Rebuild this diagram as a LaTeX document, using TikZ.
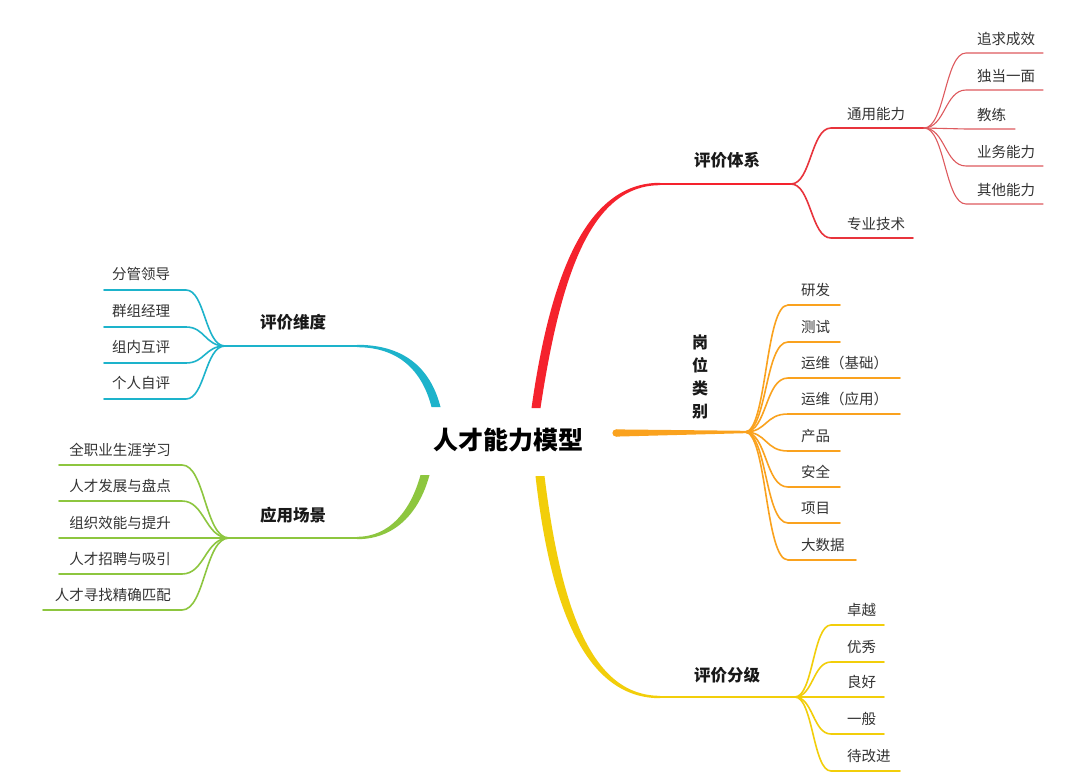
\documentclass[tikz,border=0pt]{standalone}
\usepackage{fontspec}
\setmainfont{Noto Sans CJK SC}
\usetikzlibrary{calc}
\definecolor{cR}{HTML}{F5222D}
\definecolor{cRsub}{HTML}{E8343C}
\definecolor{cRleaf}{HTML}{DE5A5E}
\definecolor{cO}{HTML}{FAA21E}
\definecolor{cY}{HTML}{F2CE0A}
\definecolor{cT}{HTML}{1DB3CB}
\definecolor{cG}{HTML}{8DC63F}
\definecolor{txt}{HTML}{333333}
\begin{document}
\begin{tikzpicture}[x=1pt,y=-1pt,
  leaf/.style={font=\fontsize{14.5}{17}\selectfont, text=txt, inner sep=0pt},
  mainlbl/.style={font=\bfseries\fontsize{16.5}{20}\selectfont, text=black!90, inner sep=0pt},
  thin/.style={line width=1.1pt, line cap=round},
  mid/.style={line width=1.6pt, line cap=round},
  trunk/.style={line width=2.4pt, line cap=round}]
\useasboundingbox (0,0) rectangle (1080,784);
\fill[white] (0,0) rectangle (1080,784);

% root
\node[font=\bfseries\fontsize{25}{30}\selectfont, inner sep=0pt] (root) at (508,440) {人才能力模型};

% ---------- red: 评价体系 ----------
\coordinate (rS) at (536,408);
\coordinate (rC) at (660,184);
\coordinate (rB) at (791,184);
\fill[cR] ($(rS)+(-4.5,0)$) .. controls (551,270) and (588,182.8) .. ($(rC)+(0,-1.2)$)
  -- ($(rC)+(0,1.2)$) .. controls (592,185.2) and (561,272) .. ($(rS)+(4.5,0)$) -- cycle;
\draw[cR, trunk] (rC) -- (rB);
\node[mainlbl] (pjtx) at (727,160) {评价体系};

\coordinate (tyS) at (831,128); \coordinate (tyE) at (924,128);
\draw[cRsub, mid] (rB) .. controls (811,184) and (811,128) .. (tyS) -- (tyE);
\node[leaf] (ty) at (876,114) {通用能力};
\coordinate (zyS) at (831,238); \coordinate (zyE) at (913,238);
\draw[cRsub, mid] (rB) .. controls (811,184) and (811,238) .. (zyS) -- (zyE);
\node[leaf] (zy) at (876,224) {专业技术};

\foreach \n/\y/\xe/\t in {a/53/1043/追求成效, b/90/1043/独当一面, c/129/1015/教练, d/166/1043/业务能力, e/204/1043/其他能力}{
  \coordinate (r\n-s) at (966,\y); \coordinate (r\n-e) at (\xe,\y);
  \draw[cRleaf, thin] (tyE) .. controls (945,128) and (945,\y) .. (r\n-s) -- (r\n-e);
  \node[leaf, anchor=west] (r\n) at (977,\y-14) {\t};
}

% ---------- orange: 岗位类别 ----------
\coordinate (oS) at (616,433);
\coordinate (oB) at (745,432);
\fill[cO] ($(oS)+(0,-3.6)$) -- ($(oB)+(0,-1.2)$) -- ($(oB)+(0,1.2)$) -- ($(oS)+(0,3.6)$) -- cycle;
\fill[cO] (oS) circle (3.6);
\node[mainlbl, align=center, font=\bfseries\fontsize{16}{23}\selectfont] (gw) at (700,377) {岗\\位\\类\\别};
\foreach \n/\y/\xe/\t in {a/305/840/研发, b/342/840/测试, c/378/900/运维（基础）, d/414/900/运维（应用）, e/451/840/产品, f/487/840/安全, g/523/840/项目, h/560/856/大数据}{
  \coordinate (o\n-s) at (788,\y); \coordinate (o\n-e) at (\xe,\y);
  \draw[cO, mid] (oB) .. controls (767,432) and (765,\y) .. (o\n-s) -- (o\n-e);
  \node[leaf, anchor=west] (o\n) at (801,\y-15) {\t};
}

% ---------- yellow: 评价分级 ----------
\coordinate (yS) at (540,476);
\coordinate (yC) at (660,697);
\coordinate (yB) at (795,697);
\fill[cY] ($(yS)+(-4.5,0)$) .. controls (551,614) and (588,698.2) .. ($(yC)+(0,1.2)$)
  -- ($(yC)+(0,-1.2)$) .. controls (592,695.8) and (561,610) .. ($(yS)+(4.5,0)$) -- cycle;
\draw[cY, trunk] (yC) -- (yB);
\node[mainlbl] (pjfj) at (727,675) {评价分级};
\foreach \n/\y/\xe/\t in {a/625/884/卓越, b/662/884/优秀, c/697/884/良好, d/734/884/一般, e/771/900/待改进}{
  \coordinate (y\n-s) at (831,\y); \coordinate (y\n-e) at (\xe,\y);
  \draw[cY, mid] (yB) .. controls (813,697) and (813,\y) .. (y\n-s) -- (y\n-e);
  \node[leaf, anchor=west] (y\n) at (847,\y-15) {\t};
}

% ---------- teal: 评价维度 ----------
\coordinate (tS) at (436,407);
\coordinate (tC) at (357,346);
\coordinate (tB) at (225,346);
\fill[cT] ($(tS)+(4.5,0)$) .. controls (430,366) and (402,344.8) .. ($(tC)+(0,-1.2)$)
  -- ($(tC)+(0,1.2)$) .. controls (398,347.2) and (422,370) .. ($(tS)+(-4.5,0)$) -- cycle;
\draw[cT, trunk] (tC) -- (tB);
\node[mainlbl] (pjwd) at (293,322) {评价维度};
\foreach \n/\y/\t in {a/290/分管领导, b/327/群组经理, c/363/组内互评, d/399/个人自评}{
  \coordinate (t\n-s) at (186,\y); \coordinate (t\n-e) at (104,\y);
  \draw[cT, mid] (tB) .. controls (205,346) and (205,\y) .. (t\n-s) -- (t\n-e);
  \node[leaf, anchor=west] (t\n) at (112,\y-16) {\t};
}

% ---------- green: 应用场景 ----------
\coordinate (gS) at (425,475);
\coordinate (gC) at (357,538);
\coordinate (gB) at (229,538);
\fill[cG] ($(gS)+(4.5,0)$) .. controls (419,514) and (394,539.2) .. ($(gC)+(0,1.2)$)
  -- ($(gC)+(0,-1.2)$) .. controls (390,536.8) and (411,510) .. ($(gS)+(-4.5,0)$) -- cycle;
\draw[cG, trunk] (gC) -- (gB);
\node[mainlbl] (yycj) at (293,515) {应用场景};
\foreach \n/\y/\xs/\t in {a/465/59/全职业生涯学习, b/501/59/人才发展与盘点, c/538/59/组织效能与提升, d/574/59/人才招聘与吸引, e/610/43/人才寻找精确匹配}{
  \coordinate (g\n-s) at (182,\y); \coordinate (g\n-e) at (\xs,\y);
  \draw[cG, mid] (gB) .. controls (205,538) and (205,\y) .. (g\n-s) -- (g\n-e);
  \node[leaf, anchor=east] (g\n) at (171,\y-15) {\t};
}
\end{tikzpicture}
\end{document}
